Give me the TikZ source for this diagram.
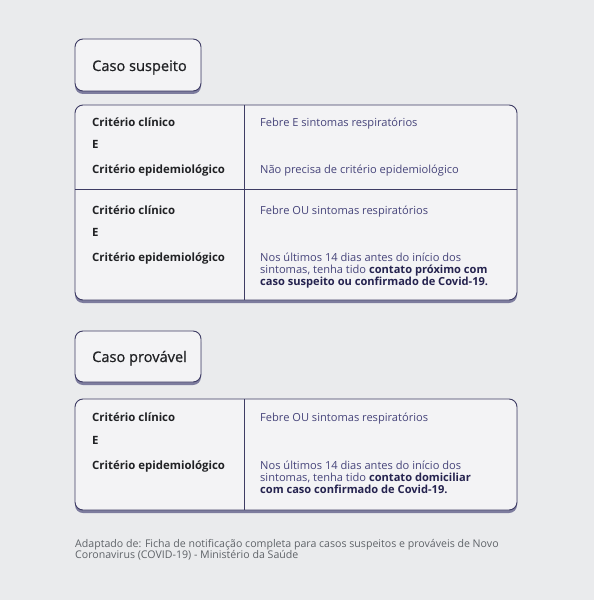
\documentclass[tikz,border=0pt]{standalone}
\usepackage{fontspec}
\setmainfont{Open Sans}
\definecolor{bgc}{HTML}{EAEBED}
\definecolor{boxfill}{HTML}{F3F3F5}
\definecolor{edgec}{HTML}{3E3C64}
\definecolor{shadowc}{HTML}{7D7C9E}
\definecolor{labc}{HTML}{202124}
\definecolor{txtc}{HTML}{46447A}
\definecolor{strongc}{HTML}{25234F}
\definecolor{notec}{HTML}{5F6368}
\tikzset{
  card/.style={draw=edgec, line width=0.9bp, fill=boxfill, rounded corners=8bp},
  cardshadow/.style={fill=shadowc, rounded corners=8bp},
  rule/.style={draw=edgec, line width=0.9bp},
  title/.style={anchor=base west, inner sep=0, font=\fontsize{14.6bp}{18bp}\selectfont\addfontfeature{FakeBold=0.8}, text=labc},
  lab/.style={anchor=base west, inner sep=0, font=\fontsize{11.4bp}{13bp}\selectfont\bfseries, text=labc},
  txt/.style={anchor=base west, inner sep=0, align=left, font=\fontsize{11.1bp}{12bp}\selectfont, text=txtc},
  note/.style={anchor=base west, inner sep=0, align=left, font=\fontsize{10.6bp}{11bp}\selectfont, text=notec}
}
\newcommand{\mystrong}[1]{\textcolor{strongc}{\bfseries #1}}
\begin{document}
\begin{tikzpicture}[x=1bp,y=-1bp]
\fill[bgc] (0,0) rectangle (594,600);
\useasboundingbox (0,0) rectangle (594,600);
% Caso suspeito
\fill[cardshadow] (75,42) rectangle (201,94);
\draw[card] (75,39) rectangle (201,91);
\node[title] (t1) at (92,71) {Caso suspeito};
% table 1
\fill[cardshadow] (75,108) rectangle (517,303);
\draw[card] (75,105) rectangle (517,300);
\draw[rule] (244,105) -- (244,300);
\draw[rule] (75,189) -- (517,189);
\node[lab] (a1) at (92,127) {Critério clínico};
\node[lab] (a2) at (92,149) {E};
\node[lab] (a3) at (92,174) {Critério epidemiológico};
\node[txt] (b1) at (260,127) {Febre E sintomas respiratórios};
\node[txt] (b2) at (260,174) {Não precisa de critério epidemiológico};
\node[lab] (c1) at (92,214) {Critério clínico};
\node[lab] (c2) at (92,236) {E};
\node[lab] (c3) at (92,261) {Critério epidemiológico};
\node[txt] (d1) at (260,214) {Febre OU sintomas respiratórios};
\node[txt] (d2) at (260,261) {Nos últimos 14 dias antes do início dos};
\node[txt] (d3) at (260,273) {sintomas, tenha tido \mystrong{contato próximo com}};
\node[txt] (d4) at (260,285) {\mystrong{caso suspeito ou confirmado de Covid-19.}};
% Caso provável
\fill[cardshadow] (75,334) rectangle (201,385);
\draw[card] (75,331) rectangle (201,382);
\node[title] (t2) at (92,362) {Caso provável};
% table 2
\fill[cardshadow] (75,402) rectangle (517,513);
\draw[card] (75,399) rectangle (517,510);
\draw[rule] (244,399) -- (244,510);
\node[lab] (e1) at (92,421) {Critério clínico};
\node[lab] (e2) at (92,444) {E};
\node[lab] (e3) at (92,469) {Critério epidemiológico};
\node[txt] (f1) at (260,421) {Febre OU sintomas respiratórios};
\node[txt] (f2) at (260,469) {Nos últimos 14 dias antes do início dos};
\node[txt] (f3) at (260,481) {sintomas, tenha tido \mystrong{contato domiciliar}};
\node[txt] (f4) at (260,493) {\mystrong{com caso confirmado de Covid-19.}};
% note
\node[note] (n1) at (75,547) {Adaptado de: Ficha de notificação completa para casos suspeitos e prováveis de Novo};
\node[note] (n2) at (75,558) {Coronavirus (COVID-19) - Ministério da Saúde};
\end{tikzpicture}
\end{document}
